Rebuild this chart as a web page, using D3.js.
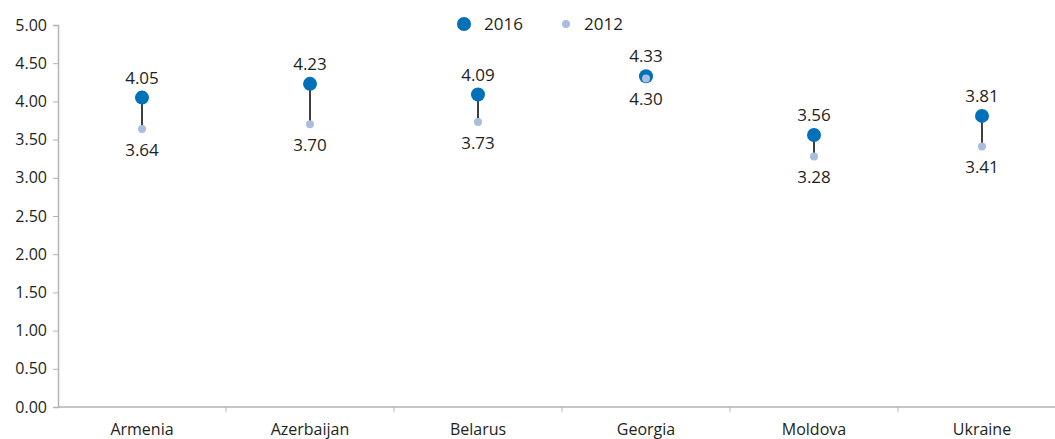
<!DOCTYPE html>
<html>
<head>
<meta charset="utf-8">
<script src="https://cdn.jsdelivr.net/npm/d3@7"></script>
<style>
  body { margin: 0; background: #fff; }
  text { font-family: "Open Sans", "Noto Sans", sans-serif; fill: #231f20; }
</style>
</head>
<body>
<svg id="Vis" width="1055" height="439"></svg>
<script>
var countries = ["Armenia", "Azerbaijan", "Belarus", "Georgia", "Moldova", "Ukraine"];
var values2016 = [4.05, 4.23, 4.09, 4.33, 3.56, 3.81];
var values2012 = [3.64, 3.70, 3.73, 4.30, 3.28, 3.41];
var yTicks = [0, 0.5, 1, 1.5, 2, 2.5, 3, 3.5, 4, 4.5, 5];

var col2016 = "#0070b8", col2012 = "#a8bddf";

var svg = d3.select("#Vis");

var x = d3.scaleBand().domain(countries).range([58, 1066]);
var y = d3.scaleLinear().domain([0, 5]).range([407, 25]);

// y axis
var yAxis = svg.append("g")
  .attr("transform", "translate(58,0)")
  .call(d3.axisLeft(y).tickValues(yTicks).tickFormat(d3.format(".2f")).tickSize(5).tickPadding(6));
yAxis.select(".domain").attr("stroke", "#b3b3b3").attr("stroke-width", 1.5);
yAxis.selectAll(".tick line").attr("stroke", "#b3b3b3");
yAxis.selectAll(".tick text").style("font-size", "16px").attr("fill", "#231f20")
  .style("font-family", "'Open Sans', sans-serif");

// x axis, ticks at the band edges
var xAxis = svg.append("g").attr("transform", "translate(0,407)");
xAxis.append("line")
  .attr("x1", 58).attr("x2", 1066)
  .attr("stroke", "#b3b3b3").attr("stroke-width", 1.5);
xAxis.selectAll(".edge")
  .data(countries.slice(1))
  .enter().append("line")
  .attr("x1", function(d){ return x(d); })
  .attr("x2", function(d){ return x(d); })
  .attr("y1", 0).attr("y2", 5)
  .attr("stroke", "#b3b3b3");
xAxis.selectAll(".lbl")
  .data(countries)
  .enter().append("text")
  .attr("x", function(d){ return x(d) + x.bandwidth()/2; })
  .attr("y", 28)
  .attr("text-anchor", "middle")
  .style("font-size", "16px")
  .text(function(d){ return d; });

var cx = function(d,i){ return x(countries[i]) + x.bandwidth()/2; };

// connector lines
svg.selectAll(".conn")
  .data(countries)
  .enter().append("line")
  .attr("x1", cx).attr("x2", cx)
  .attr("y1", function(d,i){ return y(values2016[i]); })
  .attr("y2", function(d,i){ return y(values2012[i]); })
  .attr("stroke", "#000").attr("stroke-width", 1.5);

svg.selectAll(".dot16")
  .data(values2016)
  .enter().append("circle")
  .attr("cx", cx).attr("cy", function(d){ return y(d); })
  .attr("r", 7).attr("fill", col2016);

svg.selectAll(".dot12")
  .data(values2012)
  .enter().append("circle")
  .attr("cx", cx).attr("cy", function(d){ return y(d); })
  .attr("r", 4).attr("fill", col2012);

svg.selectAll(".lab16")
  .data(values2016)
  .enter().append("text")
  .attr("x", cx).attr("y", function(d){ return y(d) - 14; })
  .attr("text-anchor", "middle")
  .style("font-size", "17px")
  .text(function(d){ return d.toFixed(2); });

svg.selectAll(".lab12")
  .data(values2012)
  .enter().append("text")
  .attr("x", cx).attr("y", function(d){ return y(d) + 27; })
  .attr("text-anchor", "middle")
  .style("font-size", "17px")
  .text(function(d){ return d.toFixed(2); });

// legend
var legend = svg.append("g");
legend.append("circle").attr("cx", 464).attr("cy", 24).attr("r", 7).attr("fill", col2016);
legend.append("text").attr("x", 484).attr("y", 30).style("font-size", "17px").text("2016");
legend.append("circle").attr("cx", 566).attr("cy", 24).attr("r", 4).attr("fill", col2012);
legend.append("text").attr("x", 584).attr("y", 30).style("font-size", "17px").text("2012");
</script>
</body>
</html>
